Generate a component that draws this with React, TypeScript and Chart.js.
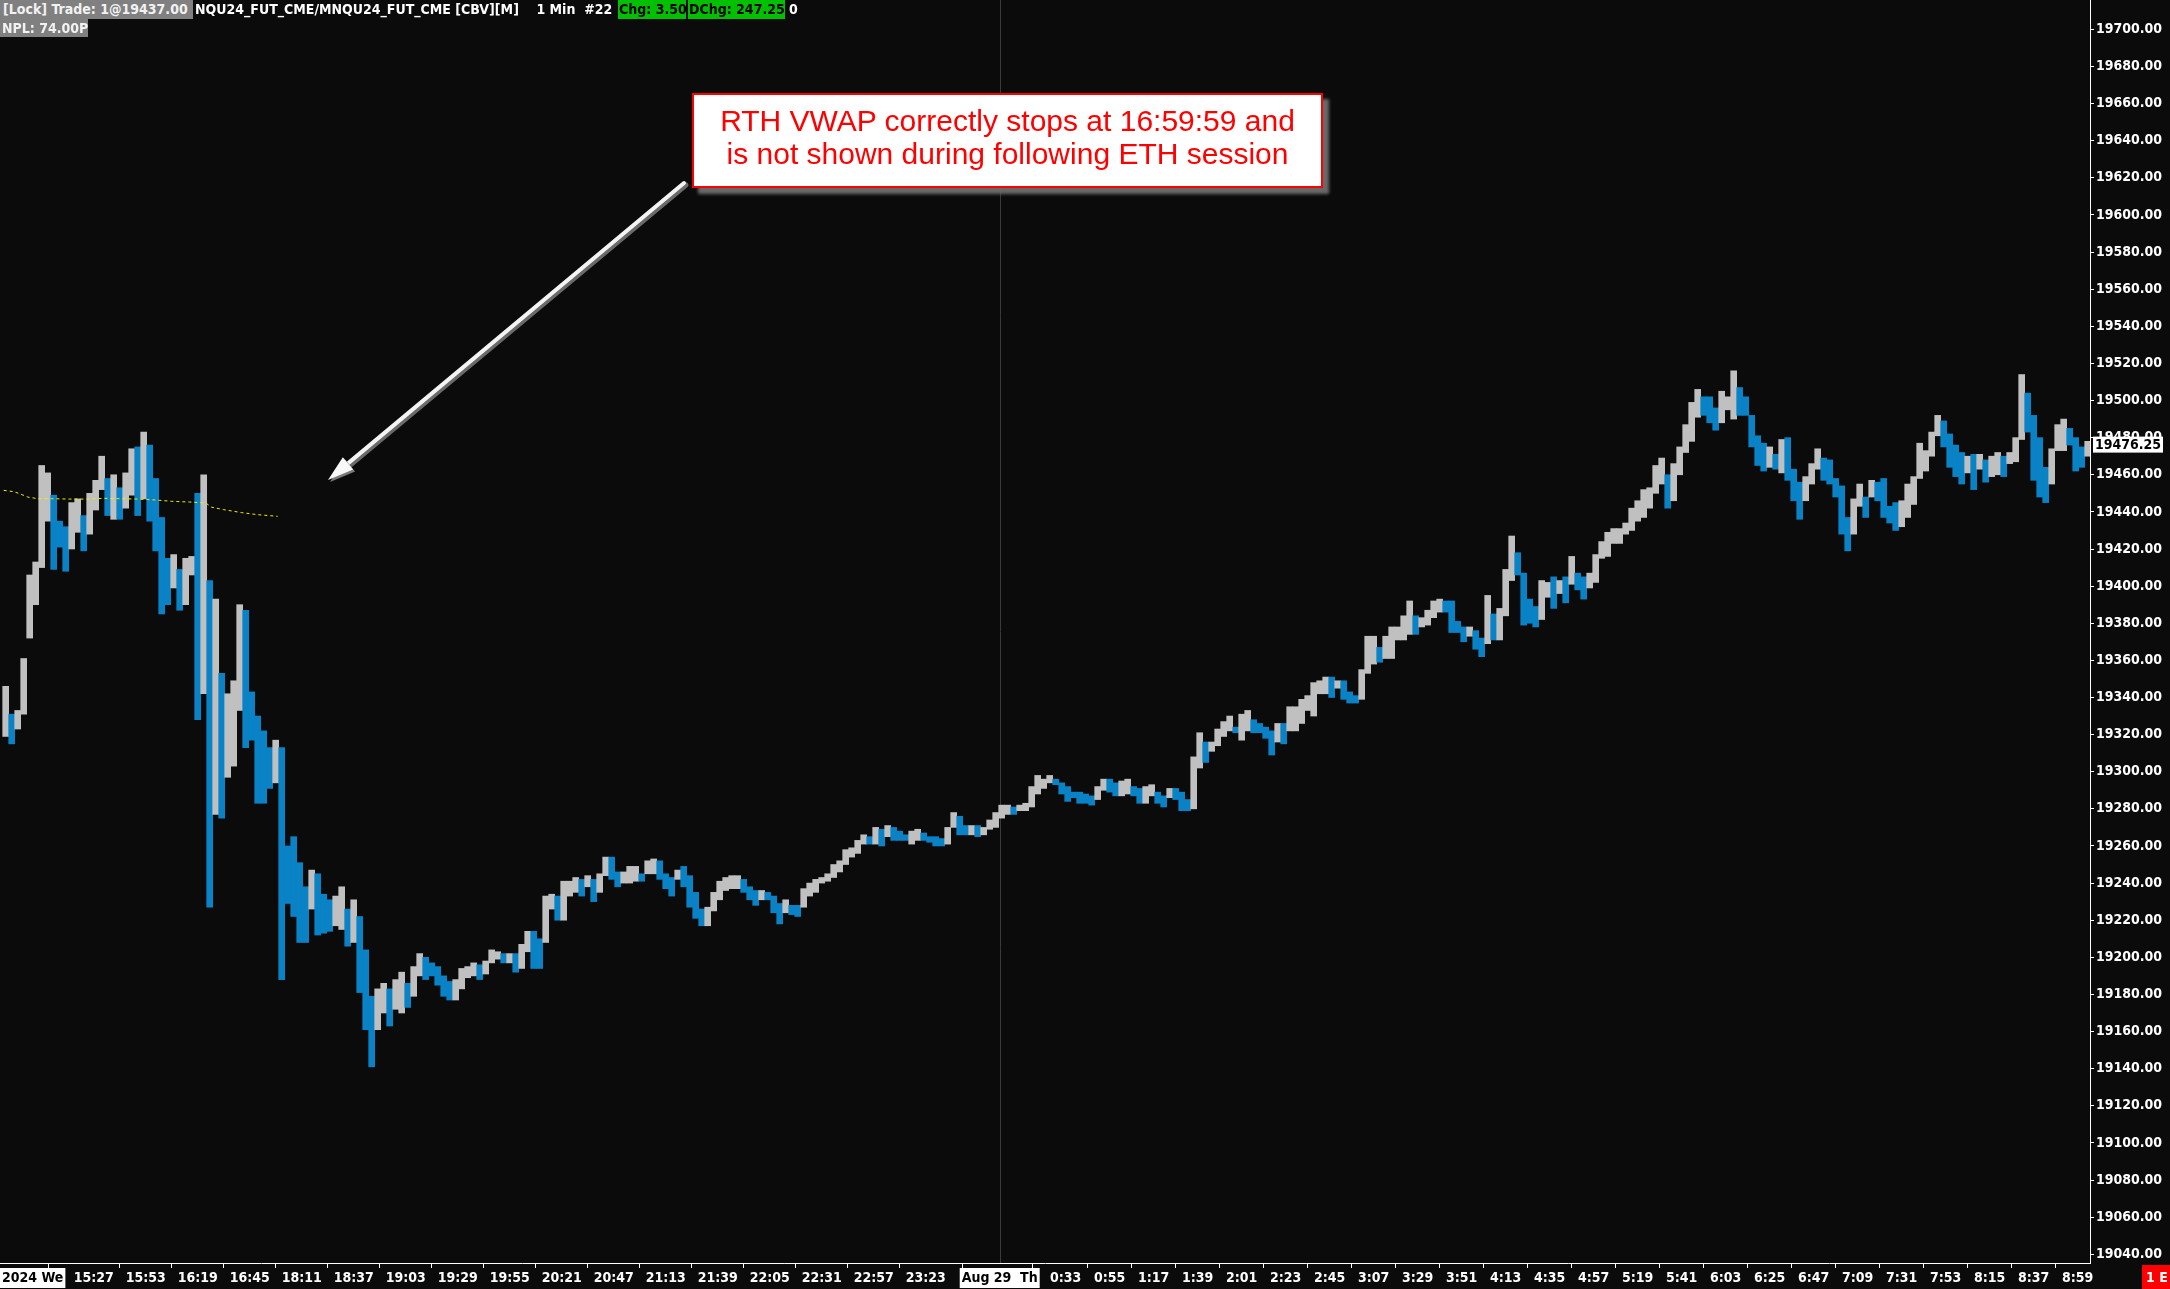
import { useEffect, useRef } from 'react';
import { Chart, registerables } from 'chart.js';

Chart.register(...registerables);

const W = 2170;
const H = 1289;
const BG = '#0b0b0b';
const FONT = "'DejaVu Sans Condensed', 'DejaVu Sans', sans-serif";
const UP = '#c0c0c0';
const DOWN = '#0a82c6';

// Each entry = one 3-minute group of 1-minute bars; bar index runs 14:42 .. ~9:03 (session break skipped)
const groupMinutes = 3;

const highs = [
  19346, 19331, 19333, 19361, 19406, 19413, 19465, 19461, 19449, 19435,
  19432, 19445, 19447, 19438, 19450, 19457, 19470, 19458, 19460, 19453,
  19461, 19474, 19475, 19483, 19476, 19458, 19437, 19415, 19417, 19409,
  19415, 19416, 19450, 19460, 19403, 19393, 19353, 19342, 19349, 19390,
  19387, 19343, 19330, 19322, 19313, 19317, 19313, 19260, 19265, 19251,
  19238, 19247, 19245, 19234, 19231, 19233, 19238, 19226, 19231, 19222,
  19204, 19179, 19183, 19186, 19183, 19188, 19192, 19186, 19195, 19202,
  19200, 19197, 19195, 19190, 19187, 19188, 19194, 19195, 19197, 19196,
  19198, 19204, 19203, 19202, 19202, 19202, 19207, 19214, 19214, 19210,
  19233, 19234, 19233, 19241, 19241, 19243, 19242, 19244, 19242, 19245,
  19254, 19254, 19246, 19246, 19249, 19249, 19245, 19252, 19253, 19252,
  19245, 19243, 19247, 19249, 19244, 19235, 19226, 19227, 19235, 19241,
  19243, 19244, 19244, 19242, 19238, 19236, 19236, 19235, 19233, 19229,
  19231, 19228, 19228, 19237, 19240, 19242, 19243, 19245, 19250, 19252,
  19258, 19259, 19263, 19266, 19265, 19270, 19269, 19271, 19270, 19268,
  19266, 19268, 19269, 19267, 19265, 19265, 19264, 19270, 19278, 19276,
  19271, 19271, 19271, 19270, 19274, 19278, 19282, 19282, 19281, 19282,
  19283, 19292, 19298, 19296, 19298, 19296, 19294, 19292, 19289, 19289,
  19288, 19287, 19292, 19296, 19296, 19294, 19295, 19296, 19292, 19291,
  19292, 19293, 19289, 19287, 19291, 19291, 19289, 19285, 19308, 19321,
  19316, 19316, 19323, 19327, 19330, 19324, 19331, 19333, 19328, 19326,
  19324, 19322, 19326, 19326, 19335, 19335, 19339, 19341, 19348, 19349,
  19351, 19351, 19349, 19349, 19343, 19341, 19355, 19373, 19373, 19367,
  19373, 19378, 19378, 19384, 19392, 19384, 19383, 19387, 19392, 19393,
  19392, 19392, 19381, 19378, 19378, 19376, 19372, 19395, 19385, 19388,
  19409, 19427, 19418, 19407, 19393, 19389, 19403, 19402, 19405, 19403,
  19405, 19416, 19407, 19405, 19407, 19417, 19424, 19429, 19431, 19431,
  19434, 19442, 19446, 19452, 19453, 19465, 19469, 19460, 19466, 19475,
  19487, 19499, 19506, 19502, 19502, 19496, 19505, 19502, 19516, 19507,
  19502, 19492, 19481, 19477, 19475, 19471, 19479, 19480, 19463, 19456,
  19459, 19466, 19474, 19469, 19468, 19458, 19454, 19437, 19447, 19455,
  19448, 19457, 19456, 19458, 19443, 19445, 19446, 19455, 19459, 19477,
  19473, 19483, 19492, 19489, 19482, 19476, 19472, 19470, 19471, 19471,
  19468, 19470, 19472, 19470, 19472, 19480, 19514, 19504, 19492, 19480,
  19464, 19474, 19487, 19490, 19485, 19480, 19475, 19478,
];

const lows = [
  19319, 19315, 19323, 19331, 19372, 19390, 19410, 19435, 19409, 19421,
  19408, 19420, 19429, 19419, 19428, 19441, 19452, 19438, 19436, 19436,
  19442, 19449, 19438, 19447, 19435, 19419, 19385, 19390, 19399, 19387,
  19390, 19406, 19328, 19342, 19227, 19277, 19275, 19297, 19303, 19333,
  19313, 19317, 19283, 19283, 19291, 19294, 19188, 19229, 19222, 19208,
  19208, 19226, 19212, 19213, 19214, 19217, 19215, 19206, 19208, 19181,
  19161, 19141, 19161, 19170, 19163, 19172, 19170, 19173, 19179, 19190,
  19188, 19190, 19185, 19179, 19177, 19177, 19183, 19189, 19190, 19188,
  19191, 19197, 19199, 19197, 19197, 19192, 19194, 19203, 19194, 19194,
  19208, 19226, 19220, 19220, 19233, 19235, 19233, 19238, 19230, 19235,
  19244, 19242, 19238, 19240, 19240, 19241, 19241, 19245, 19245, 19242,
  19237, 19233, 19242, 19238, 19227, 19221, 19217, 19217, 19225, 19231,
  19236, 19237, 19237, 19235, 19231, 19228, 19231, 19231, 19224, 19218,
  19224, 19223, 19222, 19227, 19233, 19235, 19240, 19241, 19243, 19246,
  19250, 19254, 19256, 19261, 19261, 19261, 19260, 19265, 19263, 19263,
  19263, 19261, 19263, 19263, 19262, 19260, 19260, 19261, 19270, 19266,
  19266, 19266, 19265, 19266, 19269, 19270, 19275, 19277, 19277, 19279,
  19279, 19281, 19288, 19291, 19294, 19293, 19288, 19284, 19286, 19283,
  19283, 19282, 19285, 19290, 19289, 19287, 19287, 19288, 19287, 19283,
  19283, 19287, 19283, 19281, 19286, 19285, 19279, 19279, 19280, 19302,
  19305, 19311, 19314, 19319, 19322, 19321, 19317, 19322, 19321, 19321,
  19318, 19309, 19316, 19315, 19322, 19322, 19326, 19333, 19330, 19342,
  19342, 19340, 19345, 19339, 19337, 19337, 19339, 19353, 19358, 19359,
  19361, 19361, 19371, 19371, 19374, 19374, 19378, 19379, 19383, 19386,
  19386, 19375, 19375, 19370, 19373, 19366, 19362, 19369, 19371, 19371,
  19384, 19403, 19406, 19379, 19380, 19378, 19382, 19394, 19388, 19396,
  19391, 19401, 19398, 19393, 19399, 19402, 19415, 19416, 19423, 19423,
  19428, 19430, 19435, 19437, 19442, 19450, 19455, 19442, 19446, 19460,
  19472, 19478, 19491, 19492, 19488, 19484, 19488, 19495, 19490, 19492,
  19492, 19475, 19465, 19462, 19464, 19463, 19461, 19457, 19446, 19436,
  19446, 19455, 19463, 19457, 19455, 19448, 19428, 19419, 19428, 19443,
  19437, 19448, 19446, 19437, 19434, 19430, 19432, 19437, 19444, 19458,
  19462, 19470, 19481, 19475, 19464, 19459, 19455, 19461, 19452, 19463,
  19456, 19459, 19460, 19459, 19466, 19467, 19479, 19483, 19457, 19448,
  19445, 19455, 19473, 19473, 19476, 19462, 19464, 19470,
];

// RTH VWAP (bar index, value) — ends at 16:59
const vwapIdx = [0, 5, 8, 12, 17, 24, 33, 43, 50, 58, 67, 76, 84, 93, 101, 104, 110, 119, 127, 137];
const vwapVal = [19451.6, 19450.9, 19449.8, 19448.0, 19447.1, 19447.1, 19446.9, 19446.9, 19447.3, 19447.1,
  19446.9, 19446.4, 19445.7, 19445.3, 19444.8, 19442.5, 19441.2, 19439.6, 19438.5, 19437.6];

const tickIdx = [0, 45, 71, 97, 123, 149, 175, 201, 227, 253, 279, 305, 331, 357, 383, 409, 435, 461, 498,
  531, 553, 575, 597, 619, 641, 663, 685, 707, 729, 751, 773, 795, 817, 839, 861, 883, 905, 927, 949, 971, 993, 1015, 1037];
const tickLabels = ['2024 We', '15:27', '15:53', '16:19', '16:45', '18:11', '18:37', '19:03', '19:29', '19:55',
  '20:21', '20:47', '21:13', '21:39', '22:05', '22:31', '22:57', '23:23', 'Aug 29  Th',
  '0:33', '0:55', '1:17', '1:39', '2:01', '2:23', '2:45', '3:07', '3:29', '3:51', '4:13', '4:35', '4:57',
  '5:19', '5:41', '6:03', '6:25', '6:47', '7:09', '7:31', '7:53', '8:15', '8:37', '8:59'];
const dateTickIdx = [0, 498];
const sessionBreakIdx = 498;

const yTicks = [19040, 19060, 19080, 19100, 19120, 19140, 19160, 19180, 19200, 19220, 19240, 19260, 19280,
  19300, 19320, 19340, 19360, 19380, 19400, 19420, 19440, 19460, 19480, 19500, 19520, 19540, 19560,
  19580, 19600, 19620, 19640, 19660, 19680, 19700];

const lastPrice = 19476.25;

export default function App() {
  const ref = useRef<HTMLCanvasElement | null>(null);

  useEffect(() => {
    document.body.style.margin = '0';
    document.body.style.background = BG;
    const canvas = ref.current;
    if (!canvas) return;

    const colors = highs.map((h, i) => {
      if (i === 0) return UP;
      const mid = (h + lows[i]) / 2;
      const prev = (highs[i - 1] + lows[i - 1]) / 2;
      return mid >= prev ? UP : DOWN;
    });

    const decor = {
      id: 'decor',
      beforeDraw(chart: any) {
        const c = chart.ctx;
        c.save();
        c.fillStyle = BG;
        c.fillRect(0, 0, chart.width, chart.height);
        c.restore();
      },
      beforeDatasetsDraw(chart: any) {
        const c = chart.ctx;
        const xs = chart.scales.x;
        const a = chart.chartArea;
        const px = Math.round(xs.getPixelForValue(sessionBreakIdx)) + 0.5;
        c.save();
        c.strokeStyle = '#3a3a3a';
        c.lineWidth = 1;
        c.beginPath();
        c.moveTo(px, a.top);
        c.lineTo(px, a.bottom);
        c.stroke();
        c.restore();
      },
      afterDraw(chart: any) {
        const c = chart.ctx;
        const xs = chart.scales.x;
        const ys = chart.scales.y;
        const a = chart.chartArea;
        c.save();
        c.font = `bold 14px ${FONT}`;
        c.textBaseline = 'middle';
        // date labels on the time axis
        dateTickIdx.forEach((v) => {
          const label = tickLabels[tickIdx.indexOf(v)];
          const tw = c.measureText(label).width;
          const px = xs.getPixelForValue(v);
          let left = px - (tw + 4) / 2;
          if (left < 0) left = 0;
          c.fillStyle = '#ffffff';
          c.fillRect(left, a.bottom + 5, tw + 4, 20);
          c.fillStyle = '#000000';
          c.textAlign = 'left';
          c.fillText(label, left + 2, a.bottom + 15.5);
        });
        // last price box
        const py = ys.getPixelForValue(lastPrice);
        c.fillStyle = '#ffffff';
        c.fillRect(a.right + 3, py - 8, 70, 16);
        c.fillStyle = '#000000';
        c.textAlign = 'left';
        c.fillText(lastPrice.toFixed(2), a.right + 5, py + 0.5);
        // bottom-right red box
        c.fillStyle = '#ff0000';
        c.fillRect(2142, a.bottom + 2, 28, 24);
        c.fillStyle = '#ffffff';
        c.textAlign = 'center';
        c.fillText('1 E', 2157, a.bottom + 15);
        // annotation arrow
        const x1 = 684, y1 = 183, x2 = 328, y2 = 480;
        const ang = Math.atan2(y2 - y1, x2 - x1);
        const headLen = 26, headW = 8;
        const bx = x2 - headLen * Math.cos(ang);
        const by = y2 - headLen * Math.sin(ang);
        c.lineCap = 'round';
        c.strokeStyle = '#6a6a6a';
        c.lineWidth = 5;
        c.beginPath();
        c.moveTo(x1 + 2, y1 + 2);
        c.lineTo(bx + 2, by + 2);
        c.stroke();
        c.strokeStyle = '#f4f4f4';
        c.lineWidth = 4;
        c.beginPath();
        c.moveTo(x1, y1);
        c.lineTo(bx, by);
        c.stroke();
        const nx = -Math.sin(ang), ny = Math.cos(ang);
        c.fillStyle = '#7a7a7a';
        c.beginPath();
        c.moveTo(x2 + 2, y2 + 2);
        c.lineTo(bx + nx * headW + 2, by + ny * headW + 2);
        c.lineTo(bx - nx * headW + 2, by - ny * headW + 2);
        c.closePath();
        c.fill();
        c.fillStyle = '#f8f8f8';
        c.beginPath();
        c.moveTo(x2, y2);
        c.lineTo(bx + nx * headW, by + ny * headW);
        c.lineTo(bx - nx * headW, by - ny * headW);
        c.closePath();
        c.fill();
        c.restore();
      },
    };

    const chart = new Chart(canvas, {
      type: 'bar',
      data: {
        datasets: [
          {
            type: 'line',
            data: vwapIdx.map((x, i) => ({ x, y: vwapVal[i] })),
            borderColor: '#f0f000',
            borderWidth: 1,
            borderDash: [3, 3],
            pointRadius: 0,
            fill: false,
            tension: 0,
            order: 1,
          } as any,
          {
            type: 'bar',
            data: highs.map((h, i) => ({ x: i * groupMinutes + 1, y: [lows[i], h] })),
            backgroundColor: colors,
            borderWidth: 0,
            barThickness: 6,
            grouped: false,
            order: 2,
          } as any,
        ],
      },
      options: {
        responsive: false,
        animation: false,
        events: [],
        layout: { padding: 0 },
        plugins: { legend: { display: false }, tooltip: { enabled: false } },
        scales: {
          x: {
            type: 'linear',
            position: 'bottom',
            offset: false,
            min: -1.85,
            max: 1043.15,
            afterBuildTicks: (s: any) => {
              s.ticks = tickIdx.map((v) => ({ value: v }));
            },
            afterFit: (s: any) => {
              s.height = 26;
              s.paddingLeft = 0;
              s.paddingRight = 0;
              s.paddingTop = 0;
              s.paddingBottom = 0;
            },
            ticks: {
              autoSkip: false,
              maxRotation: 0,
              minRotation: 0,
              padding: 2,
              color: '#ffffff',
              font: { family: FONT, size: 14, weight: 'bold' },
              callback: (v: any) => {
                const k = tickIdx.indexOf(Number(v));
                if (k < 0 || dateTickIdx.includes(Number(v))) return '';
                return tickLabels[k];
              },
            },
            grid: { display: true, drawOnChartArea: false, drawTicks: true, tickLength: 5, color: '#ffffff' },
            border: { display: true, color: '#ffffff', width: 1 },
          },
          y: {
            type: 'linear',
            position: 'right',
            min: 19035.3,
            max: 19715.8,
            afterBuildTicks: (s: any) => {
              s.ticks = yTicks.map((v) => ({ value: v }));
            },
            afterFit: (s: any) => {
              s.width = 80;
              s.paddingLeft = 0;
              s.paddingRight = 0;
              s.paddingTop = 0;
              s.paddingBottom = 0;
            },
            ticks: {
              autoSkip: false,
              padding: 2,
              color: '#ffffff',
              font: { family: FONT, size: 14, weight: 'bold' },
              callback: (v: any) => Number(v).toFixed(2),
            },
            grid: { display: true, drawOnChartArea: false, drawTicks: true, tickLength: 4, color: '#ffffff' },
            border: { display: true, color: '#ffffff', width: 1 },
          },
        },
      } as any,
      plugins: [decor],
    });

    return () => chart.destroy();
  }, []);

  const hdr: any = {
    position: 'absolute',
    top: 0,
    height: 19,
    lineHeight: '19px',
    fontFamily: FONT,
    fontStretch: 'condensed',
    fontWeight: 'bold',
    fontSize: 14,
    whiteSpace: 'pre',
    boxSizing: 'border-box',
    overflow: 'hidden',
  };

  return (
    <div style={{ position: 'relative', width: W, height: H, background: BG, overflow: 'hidden' }}>
      <canvas ref={ref} width={W} height={H} style={{ display: 'block', width: W, height: H }} />
      <div style={{ ...hdr, left: 0, width: 193, background: '#808080', color: '#f2f2f2', paddingLeft: 3 }}>
        [Lock] Trade: 1@19437.00
      </div>
      <div style={{ ...hdr, left: 195, color: '#ffffff' }}>NQU24_FUT_CME/MNQU24_FUT_CME [CBV][M]    1 Min  #22</div>
      <div style={{ ...hdr, left: 618, width: 68, background: '#00c000', color: '#000000', paddingLeft: 1 }}>Chg: 3.50</div>
      <div style={{ ...hdr, left: 688, width: 97, background: '#00c000', color: '#000000', paddingLeft: 1 }}>DChg: 247.25</div>
      <div style={{ ...hdr, left: 789, color: '#ffffff' }}>0</div>
      <div style={{ ...hdr, top: 19, left: 0, width: 88, height: 18, lineHeight: '18px', background: '#808080', color: '#f2f2f2', paddingLeft: 2 }}>
        NPL: 74.00P
      </div>
      <div
        style={{
          position: 'absolute',
          left: 692,
          top: 93,
          width: 631,
          height: 95,
          boxSizing: 'border-box',
          border: '2px solid #ff0000',
          background: '#ffffff',
          boxShadow: '6px 6px 3px rgba(110,110,110,0.95)',
          color: '#ff0000',
          fontFamily: "'Liberation Sans', Arial, sans-serif",
          fontSize: 30,
          lineHeight: '33px',
          textAlign: 'center',
          paddingTop: 9,
          whiteSpace: 'nowrap',
        }}
      >
        RTH VWAP correctly stops at 16:59:59 and
        <br />
        is not shown during following ETH session
      </div>
    </div>
  );
}
